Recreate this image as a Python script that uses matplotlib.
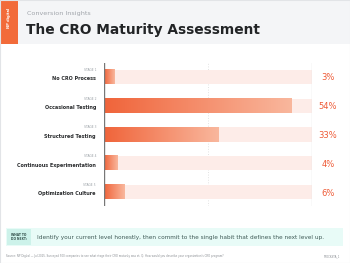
import matplotlib
matplotlib.use("Agg")
import matplotlib.pyplot as plt
import numpy as np
from matplotlib.colors import LinearSegmentedColormap
from matplotlib.patches import Rectangle

stages = ["STAGE 1", "STAGE 2", "STAGE 3", "STAGE 4", "STAGE 5"]
names = ["No CRO Process", "Occasional Testing", "Structured Testing",
         "Continuous Experimentation", "Optimization Culture"]
values = [3, 54, 33, 4, 6]
xmax = 60

W, H = 350, 263
fig = plt.figure(figsize=(W / 100, H / 100), dpi=100)
fig.patch.set_facecolor("white")


def fx(px):
    return px / W


def fy(py):
    return 1 - py / H


# header
fig.patches.append(Rectangle((0, fy(44)), 1, 44 / H, transform=fig.transFigure,
                             facecolor="#f4f5f7", edgecolor="none", zorder=0))
fig.patches.append(Rectangle((0, fy(44)), fx(18), 44 / H, transform=fig.transFigure,
                             facecolor="#f26b3a", edgecolor="none", zorder=1))
fig.text(fx(9), fy(18), "NP digital", rotation=90, color="white", fontsize=2.6,
         fontweight="bold", ha="center", va="center")
fig.text(fx(27), fy(14), "Conversion Insights", fontsize=4.6, color="#a0a4aa",
         va="center")
fig.text(fx(26), fy(30), "The CRO Maturity Assessment", fontsize=9.9,
         fontweight="bold", color="#222426", va="center")

# bars
top, bottom = 62.6, 206.4
ax = fig.add_axes([fx(104), fy(bottom), fx(312) - fx(104), (bottom - top) / H])

cmap = LinearSegmentedColormap.from_list("bar", ["#f0643a", "#f9b79d"])
grad = np.linspace(0, 1, 256).reshape(1, -1)
bh = 0.5
for i, v in enumerate(values):
    ax.barh(i, xmax, height=bh, color="#fdece8", zorder=1)
    ax.imshow(grad, cmap=cmap, aspect="auto", extent=[0, v, i + bh / 2, i - bh / 2],
              zorder=2, interpolation="bilinear")
    fig.text(fx(96), fy(77 + i * 28.75 - 7), stages[i], fontsize=2.2,
             color="#9aa0a6", ha="right", va="center")
    fig.text(fx(96), fy(77 + i * 28.75 + 2), names[i], fontsize=3.55,
             fontweight="bold", color="#2a2c2e", ha="right", va="center")
    fig.text(fx(328), fy(77 + i * 28.75 + 1), f"{v}%", fontsize=6.0,
             color="#ee5a36", ha="center", va="center")
ax.set_xlim(0, xmax)
ax.set_ylim(len(values) - 0.5, -0.5)
ax.axis("off")
ax.axvline(xmax / 2, color="#e2e2e2", lw=0.7, ls=":", zorder=0)
ax.axvline(xmax, color="#e4e4e4", lw=1.0, zorder=3)
ax.axvline(0, color="#777777", lw=1.0, zorder=3)

# callout
fig.patches.append(Rectangle((fx(6), fy(246)), fx(337), 18 / H, transform=fig.transFigure,
                             facecolor="#e8fbf7", edgecolor="none", zorder=1))
fig.patches.append(Rectangle((fx(7), fy(245)), fx(24), 16 / H, transform=fig.transFigure,
                             facecolor="#cdf2ea", edgecolor="none", zorder=2))
fig.text(fx(19), fy(237), "WHAT TO\nDO NEXT:", fontsize=2.2, fontweight="bold",
         color="#2d4a45", ha="center", va="center", linespacing=1.0)
fig.text(fx(37), fy(237.5),
         "Identify your current level honestly, then commit to the single habit that defines the next level up.",
         fontsize=4.15, color="#3f5a56", va="center")

# footer
fig.text(fx(6), fy(256),
         "Source: NP Digital \u2014 Jul 2025. Surveyed 500 companies to see what stage their CRO maturity was at. Q: How would you describe your organization's CRO program?",
         fontsize=1.9, color="#8a8e93", va="center")
fig.text(fx(340), fy(256), "STOCKSTA_1", fontsize=1.9, color="#8a8e93",
         ha="right", va="center")

fig.patches.append(Rectangle((0, 0), 1, 1, transform=fig.transFigure, facecolor="none",
                             edgecolor="#e2e4e7", lw=0.8, zorder=5))

fig.savefig("out.png", dpi=100)
